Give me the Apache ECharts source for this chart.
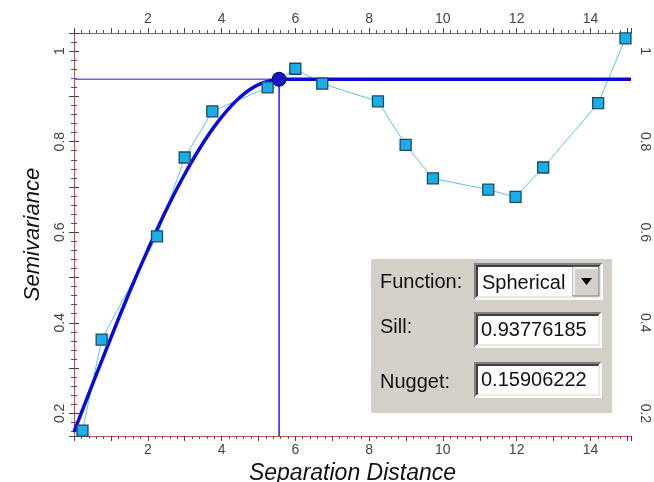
<!DOCTYPE html>
<html>
<head>
<meta charset="utf-8">
<script src="https://cdn.jsdelivr.net/npm/echarts@6/dist/echarts.min.js"></script>
<style>
  html, body { margin: 0; padding: 0; background: #fff; }
</style>
</head>
<body>
<div id="main" style="width: 654px; height: 482px"></div>
<script>
// experimental semivariogram (lag distance vs semivariance)
const lagDist = [0.23, 0.75, 2.25, 3.0, 3.75, 5.25, 6.0, 6.73, 8.24, 8.99, 9.73, 11.23, 11.97, 12.72, 14.21, 14.95];
const semivar = [0.162, 0.363, 0.591, 0.765, 0.867, 0.920, 0.961, 0.928, 0.889, 0.793, 0.719, 0.694, 0.678, 0.743, 0.885, 1.028];

// fitted model curve
const modelX = [0, 0.5, 1, 1.5, 2, 2.5, 3, 3.5, 4, 4.5, 5, 5.56];
const modelY = [0.159, 0.264, 0.367, 0.467, 0.561, 0.649, 0.728, 0.797, 0.854, 0.898, 0.926, 0.93776185];

// model parameters shown in the panel
const modelFunction = 'Spherical';
const sill = 0.93776185;
const nugget = 0.15906222;
const range = 5.56;

const xMin = 0, xMax = 15.1;
const yMin = 0.15, yMax = 1.04;

const font = '"Liberation Sans", Arial, sans-serif';

const points = lagDist.map((d, i) => [d, semivar[i]]);
const curve = modelX.map((d, i) => [d, modelY[i]]);

function xLabel(v) {
  return Math.abs(v % 2) < 1e-6 && v > 0 ? String(v) : '';
}
function yLabel(v) {
  const k = Math.round(v / 0.2);
  return k > 0 && Math.abs(v - k * 0.2) < 1e-6 ? String(Math.round(v * 10) / 10) : '';
}

const axisLine = { show: true, lineStyle: { color: '#d04a4a', width: 1 } };
const axisTick = { show: true, length: 5, lineStyle: { color: '#444' } };
const minorTick = { show: true, splitNumber: 5, length: 3, lineStyle: { color: '#555' } };

function xAxisCfg(pos) {
  return {
    type: 'value', position: pos, min: xMin, max: xMax, interval: 1,
    axisLine: axisLine, axisTick: axisTick, minorTick: minorTick,
    splitLine: { show: false },
    axisLabel: { formatter: xLabel, fontFamily: font, fontSize: 14, color: '#444', margin: 7 }
  };
}
function yAxisCfg(pos, rot) {
  return {
    type: 'value', position: pos, min: yMin, max: yMax, minInterval: 0.1, maxInterval: 0.1,
    axisLine: axisLine, axisTick: axisTick, minorTick: minorTick,
    splitLine: { show: false },
    axisLabel: { formatter: yLabel, fontFamily: font, fontSize: 14, color: '#444', rotate: rot, margin: 7 }
  };
}

// sunken windows-style box
function sunkenBox(x, y, w, h) {
  return [
    { type: 'rect', shape: { x: x, y: y, width: w, height: h }, style: { fill: '#fff' } },
    { type: 'polyline', shape: { points: [[x, y + h], [x, y], [x + w, y]] }, style: { stroke: '#808080', lineWidth: 2, fill: null } },
    { type: 'polyline', shape: { points: [[x + 2, y + h - 2], [x + 2, y + 2], [x + w - 2, y + 2]] }, style: { stroke: '#404040', lineWidth: 2, fill: null } },
    { type: 'polyline', shape: { points: [[x, y + h], [x + w, y + h], [x + w, y]] }, style: { stroke: '#ffffff', lineWidth: 2, fill: null } },
    { type: 'polyline', shape: { points: [[x + 2, y + h - 2], [x + w - 2, y + h - 2], [x + w - 2, y + 2]] }, style: { stroke: '#e4e2dc', lineWidth: 1.5, fill: null } }
  ];
}

function label(txt, x, y) {
  return { type: 'text', style: { text: txt, x: x, y: y, font: '20px ' + font, fill: '#111', verticalAlign: 'middle' } };
}

const panel = [].concat(
  [{ type: 'rect', shape: { x: 371, y: 259, width: 241, height: 154 }, style: { fill: '#d4d0c8' } }],
  [label('Function:', 380, 282), label('Sill:', 380, 327), label('Nugget:', 380, 382)],
  sunkenBox(475, 264, 127, 35),
  [
    { type: 'rect', shape: { x: 573, y: 267, width: 26, height: 29 }, style: { fill: '#d4d0c8', stroke: '#808080', lineWidth: 1 } },
    { type: 'polyline', shape: { points: [[574, 295], [574, 268], [598, 268]] }, style: { stroke: '#fff', lineWidth: 1.5, fill: null } },
    { type: 'polygon', shape: { points: [[581, 278], [592, 278], [586.5, 285]] }, style: { fill: '#000' } },
    label(modelFunction, 482, 283)
  ],
  sunkenBox(475, 313, 126, 34),
  [label(sill.toFixed(8), 481, 330)],
  sunkenBox(475, 363, 126, 34),
  [label(nugget.toFixed(8), 481, 380)]
);

const myChart = echarts.init(document.getElementById('main'));
myChart.setOption({
  animation: false,
  backgroundColor: '#fff',
  grid: { left: 74, right: 23, top: 33, bottom: 46, outerBoundsMode: 'none' },
  xAxis: [
    Object.assign(xAxisCfg('bottom'), {
      name: 'Separation Distance', nameLocation: 'middle', nameGap: 24,
      nameTextStyle: { fontFamily: font, fontSize: 23, fontStyle: 'italic', color: '#111' }
    }),
    xAxisCfg('top')
  ],
  yAxis: [
    Object.assign(yAxisCfg('left', 90), {
      name: 'Semivariance', nameLocation: 'middle', nameGap: 30,
      nameTextStyle: { fontFamily: font, fontSize: 22, fontStyle: 'italic', color: '#111' }
    }),
    yAxisCfg('right', -90)
  ],
  series: [
    {
      name: 'Experimental line', type: 'line', data: points, showSymbol: false, symbol: 'none',
      lineStyle: { color: '#5cc4e6', width: 1 }, z: 2
    },
    {
      name: 'Sill left', type: 'line', data: [[xMin, sill], [range, sill]], symbol: 'none',
      lineStyle: { color: '#6a6ad0', width: 1.5 }, z: 2
    },
    {
      name: 'Range', type: 'line', data: [[range, yMin], [range, sill]], symbol: 'none',
      lineStyle: { color: '#1a1aff', width: 1.5 }, z: 2
    },
    {
      name: 'Model', type: 'line', data: curve, symbol: 'none', smooth: 0.4,
      lineStyle: { color: '#0b0bd9', width: 3.5 }, z: 3
    },
    {
      name: 'Model sill', type: 'line', data: [[range, sill], [xMax, sill]], symbol: 'none',
      lineStyle: { color: '#0b0bd9', width: 3.5 }, z: 3
    },
    {
      name: 'Experimental', type: 'scatter', data: points, symbol: 'rect', symbolSize: 11,
      itemStyle: { color: '#17aeea', borderColor: '#24465e', borderWidth: 1.3, opacity: 1 }, z: 4
    },
    {
      name: 'Range point', type: 'scatter', data: [[range, sill]], symbol: 'circle', symbolSize: 14,
      itemStyle: { color: '#1414c8', borderColor: '#00005a', borderWidth: 1, opacity: 1 }, z: 5
    }
  ],
  graphic: { elements: panel.map(e => Object.assign({ z: 100 }, e)) }
});
</script>
</body>
</html>
